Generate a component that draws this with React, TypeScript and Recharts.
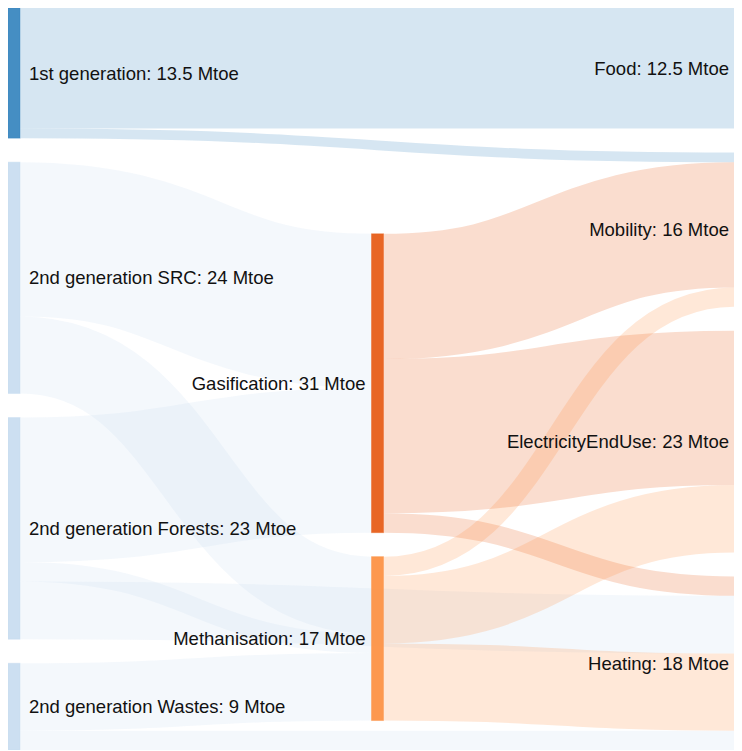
import { Sankey } from "recharts";

// Biomass flows, Mtoe
const NODE_NAMES = [
  "1st generation",
  "2nd generation SRC",
  "2nd generation Forests",
  "2nd generation Wastes",
  "Gasification",
  "Methanisation",
  "Food",
  "Mobility",
  "ElectricityEndUse",
  "Heating",
];

const LINK_SOURCES = [0, 0, 1, 1, 2, 2, 2, 3, 3, 4, 4, 4, 5, 5, 5];
const LINK_TARGETS = [6, 7, 4, 5, 4, 5, 9, 5, 9, 7, 8, 9, 7, 8, 9];
const LINK_VALUES = [12.5, 1, 16, 8, 15, 2, 6, 7, 2, 13, 16, 2, 2, 7, 8];

const UNIT = "Mtoe";

const NODE_COLORS: Record<string, string> = {
  "1st generation": "#3182bd",
  "2nd generation SRC": "#c6dbef",
  "2nd generation Forests": "#c6dbef",
  "2nd generation Wastes": "#c6dbef",
  Gasification: "#e6550d",
  Methanisation: "#fd8d3c",
  Food: "#9ecae1",
  Mobility: "#fdae6b",
  ElectricityEndUse: "#fdd0a2",
  Heating: "#31a354",
};

const data = {
  nodes: NODE_NAMES.map((name) => ({ name })),
  links: LINK_VALUES.map((value, i) => ({
    source: LINK_SOURCES[i],
    target: LINK_TARGETS[i],
    value,
  })),
};

const FONT = "Arial, 'Liberation Sans', sans-serif";

function FlowNode(props: any) {
  const { x, y, width, height, payload } = props;
  const color = NODE_COLORS[payload.name] ?? "#999";
  const onLeft = payload.depth === 0;
  return (
    <g>
      <rect
        x={x}
        y={y}
        width={width}
        height={height}
        fill={color}
        fillOpacity={0.9}
        stroke={color}
        strokeOpacity={0.4}
      />
      <text
        x={onLeft ? x + width + 9 : x - 6}
        y={y + height / 2}
        dy="0.35em"
        textAnchor={onLeft ? "start" : "end"}
        fontFamily={FONT}
        fontSize={18.5}
        fill="#111"
      >
        {`${payload.name}: ${payload.value} ${UNIT}`}
      </text>
    </g>
  );
}

function FlowLink(props: any) {
  const { sourceX, targetX, sourceY, targetY, sourceControlX, targetControlX, linkWidth, payload } = props;
  const color = NODE_COLORS[payload.source.name] ?? "#999";
  return (
    <path
      d={`M${sourceX},${sourceY} C${sourceControlX},${sourceY} ${targetControlX},${targetY} ${targetX},${targetY}`}
      fill="none"
      stroke={color}
      strokeWidth={linkWidth}
      strokeOpacity={0.2}
    />
  );
}

export default function App() {
  return (
    <div style={{ width: 726, height: 742, overflow: "hidden" }}>
      <Sankey
        width={739}
        height={742}
        data={data}
        nodeWidth={12}
        nodePadding={24}
        iterations={400}
        margin={{ top: 0, right: 0, bottom: 0, left: 0 }}
        node={<FlowNode />}
        link={<FlowLink />}
      />
    </div>
  );
}
